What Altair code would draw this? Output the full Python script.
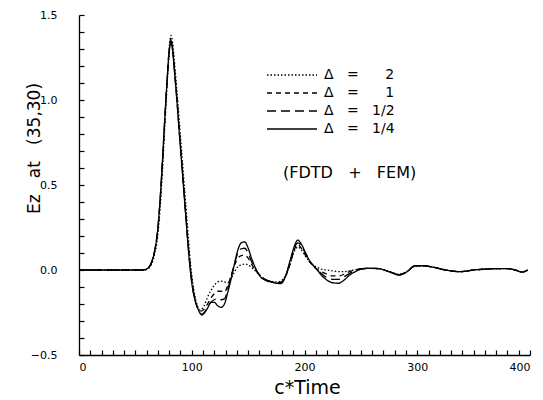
import altair as alt
import pandas as pd

# sample times (c*Time)
time = [0, 40, 55, 58, 61, 64, 67, 70, 72, 74,
        76, 78, 80, 81.5, 83, 85, 87, 89, 91, 93,
        95, 97, 99, 101, 103, 105, 107, 109, 111, 114,
        117, 120, 123, 126, 129, 132, 135, 138, 141, 144,
        147, 150, 153, 157, 161, 165, 170, 175, 179, 183,
        187, 191, 194, 197, 201, 205, 210, 215, 220, 225,
        230, 235, 240, 245, 250, 258, 266, 275, 284, 291,
        298, 305, 315, 325, 338, 350, 360, 370, 380, 387,
        393, 398]

ez_d2 = [0, 0, 0, 0.0, 0.006, 0.03, 0.09, 0.21, 0.37, 0.58,
         0.83, 1.07, 1.3, 1.38, 1.34, 1.2, 1.04, 0.87, 0.7, 0.53,
         0.36, 0.19, 0.03, -0.08, -0.16, -0.21, -0.235, -0.23, -0.21, -0.16,
         -0.12, -0.09, -0.07, -0.065, -0.07, -0.075, -0.05, -0.01, 0.02, 0.03,
         0.035, 0.03, 0.015, -0.01, -0.035, -0.055, -0.065, -0.07, -0.065, -0.035,
         0.03, 0.11, 0.135, 0.12, 0.08, 0.045, 0.02, 0.005, 0.0, -0.005,
         -0.01, -0.01, -0.005, 0.002, 0.008, 0.01, 0.008, -0.008, -0.024, -0.008,
         0.022, 0.025, 0.015, 0.0, -0.01, 0.0, 0.005, 0.008, 0.008, 0.0,
         -0.012, 0.0]

ez_d1 = [0, 0, 0, 0.001, 0.009, 0.038, 0.105, 0.24, 0.41, 0.63,
         0.87, 1.1, 1.3, 1.36, 1.31, 1.16, 1.0, 0.82, 0.65, 0.48,
         0.31, 0.14, 0.0, -0.1, -0.17, -0.22, -0.24, -0.24, -0.23, -0.2,
         -0.165, -0.14, -0.125, -0.125, -0.13, -0.09, -0.03, 0.03, 0.07, 0.085,
         0.088, 0.07, 0.035, -0.005, -0.035, -0.055, -0.068, -0.075, -0.072, -0.04,
         0.03, 0.12, 0.15, 0.13, 0.085, 0.045, 0.01, -0.01, -0.025, -0.035,
         -0.035, -0.025, -0.01, 0.0, 0.008, 0.01, 0.008, -0.01, -0.026, -0.01,
         0.025, 0.025, 0.015, 0.0, -0.01, 0.0, 0.005, 0.008, 0.008, 0.0,
         -0.012, 0.0]

ez_dhalf = [0, 0, 0, 0.002, 0.01, 0.04, 0.11, 0.25, 0.42, 0.64,
            0.88, 1.1, 1.29, 1.35, 1.3, 1.15, 0.99, 0.81, 0.64, 0.47,
            0.3, 0.13, -0.01, -0.11, -0.18, -0.22, -0.25, -0.26, -0.25, -0.22,
            -0.19, -0.175, -0.17, -0.175, -0.17, -0.11, -0.04, 0.04, 0.1, 0.125,
            0.128, 0.1, 0.05, 0.0, -0.035, -0.055, -0.068, -0.075, -0.075, -0.04,
            0.04, 0.13, 0.16, 0.145, 0.095, 0.05, 0.01, -0.02, -0.045, -0.055,
            -0.055, -0.04, -0.02, -0.005, 0.005, 0.01, 0.008, -0.01, -0.028, -0.01,
            0.025, 0.025, 0.015, 0.0, -0.01, 0.0, 0.005, 0.008, 0.008, 0.0,
            -0.012, 0.0]

ez_dquarter = [0, 0, 0, 0.002, 0.01, 0.04, 0.11, 0.25, 0.42, 0.64,
               0.88, 1.1, 1.28, 1.337, 1.29, 1.14, 0.98, 0.8, 0.63, 0.46,
               0.29, 0.12, -0.02, -0.12, -0.18, -0.22, -0.25, -0.265, -0.255, -0.225,
               -0.19, -0.19, -0.21, -0.22, -0.2, -0.13, -0.05, 0.04, 0.12, 0.16,
               0.165, 0.13, 0.07, 0.005, -0.04, -0.06, -0.07, -0.078, -0.08, -0.04,
               0.05, 0.14, 0.176, 0.155, 0.1, 0.05, 0.01, -0.03, -0.06, -0.075,
               -0.078, -0.06, -0.03, -0.01, 0.005, 0.01, 0.008, -0.01, -0.03, -0.01,
               0.025, 0.025, 0.015, 0.0, -0.01, 0.0, 0.005, 0.008, 0.008, 0.0,
               -0.012, 0.0]

NB = "\u00a0"
series_labels = [
    "Δ" + NB * 3 + "=" + NB * 6 + "2",
    "Δ" + NB * 3 + "=" + NB * 6 + "1",
    "Δ" + NB * 3 + "=" + NB * 3 + "1/2",
    "Δ" + NB * 3 + "=" + NB * 3 + "1/4",
]
series_dashes = [[1.5, 2], [5, 4], [9, 5], [1, 0]]

x_label_values = [0, 100, 200, 300, 400]
x_tick_values = list(range(0, 401, 10))
y_label_values = [-0.5, 0.0, 0.5, 1.0, 1.5]
y_tick_values = [round(-0.5 + 0.1 * i, 1) for i in range(21)]

note_text = ["(FDTD" + NB * 3 + "+" + NB * 3 + "FEM)"]
note_x = [240]
note_y = [0.57]

rows = []
for lab, vals in zip(series_labels, [ez_d2, ez_d1, ez_dhalf, ez_dquarter]):
    for t, v in zip(time, vals):
        rows.append({"t": t, "ez": v, "series": lab})
df = pd.DataFrame(rows)
note_df = pd.DataFrame({"t": note_x, "ez": note_y, "txt": note_text})

FONT = "DejaVu Sans"
x_scale = alt.Scale(domain=[0, 400], nice=False, zero=False)
y_scale = alt.Scale(domain=[-0.5, 1.5], nice=False, zero=False)

lines = alt.Chart(df).mark_line(
    color="black", strokeWidth=1.3, interpolate="monotone"
).encode(
    x=alt.X("t:Q", scale=x_scale, axis=alt.Axis(
        values=x_label_values, ticks=False, grid=False, domainColor="black",
        domainWidth=1.3, labelFont=FONT, labelFontSize=11, labelColor="black",
        labelPadding=6, title="c*Time", titleFont=FONT, titleFontSize=19,
        titleFontWeight="normal", titleColor="black", titleY=38, titleX=228,
        titleBaseline="alphabetic")),
    y=alt.Y("ez:Q", scale=y_scale, axis=alt.Axis(
        values=y_label_values, format=".1f", ticks=False, grid=False,
        domainColor="black", domainWidth=1.3, labelFont=FONT, labelFontSize=11,
        labelColor="black", labelPadding=22,
        title="Ez" + NB * 3 + "at" + NB * 3 + "(35,30)", titleFont=FONT,
        titleFontSize=17, titleFontWeight="normal", titleColor="black",
        titleX=-36, titleY=133)),
    strokeDash=alt.StrokeDash("series:N", scale=alt.Scale(
        domain=series_labels, range=series_dashes), legend=alt.Legend(
        title=None, orient="none", legendX=206, legendY=53,
        symbolType="M-5,0H5", symbolSize=100, symbolStrokeWidth=1.3,
        symbolStrokeColor="black", labelFont=FONT, labelFontSize=14,
        labelColor="black", labelOffset=25, rowPadding=4)),
)

note = alt.Chart(note_df).mark_text(
    font=FONT, fontSize=16, color="black"
).encode(
    x=alt.X("t:Q", scale=x_scale, axis=alt.Axis(
        values=x_tick_values, labels=False, domain=False, tickSize=5,
        tickColor="black", tickWidth=1.2, offset=-5, orient="bottom",
        grid=False, title=None)),
    y=alt.Y("ez:Q", scale=y_scale, axis=alt.Axis(
        values=y_tick_values, labels=False, domain=False, tickSize=5,
        tickColor="black", tickWidth=1.2, offset=-5, orient="left",
        grid=False, title=None)),
    text="txt:N",
)

chart = alt.layer(lines, note).resolve_axis(
    x="independent", y="independent"
).properties(
    width=451, height=340,
    autosize=alt.AutoSizeParams(type="none"),
    padding={"left": 71, "top": 7, "right": 5, "bottom": 44},
    background="white",
).configure_view(strokeWidth=0)

chart.save("out.html", embed_options={"renderer": "svg", "actions": False})
